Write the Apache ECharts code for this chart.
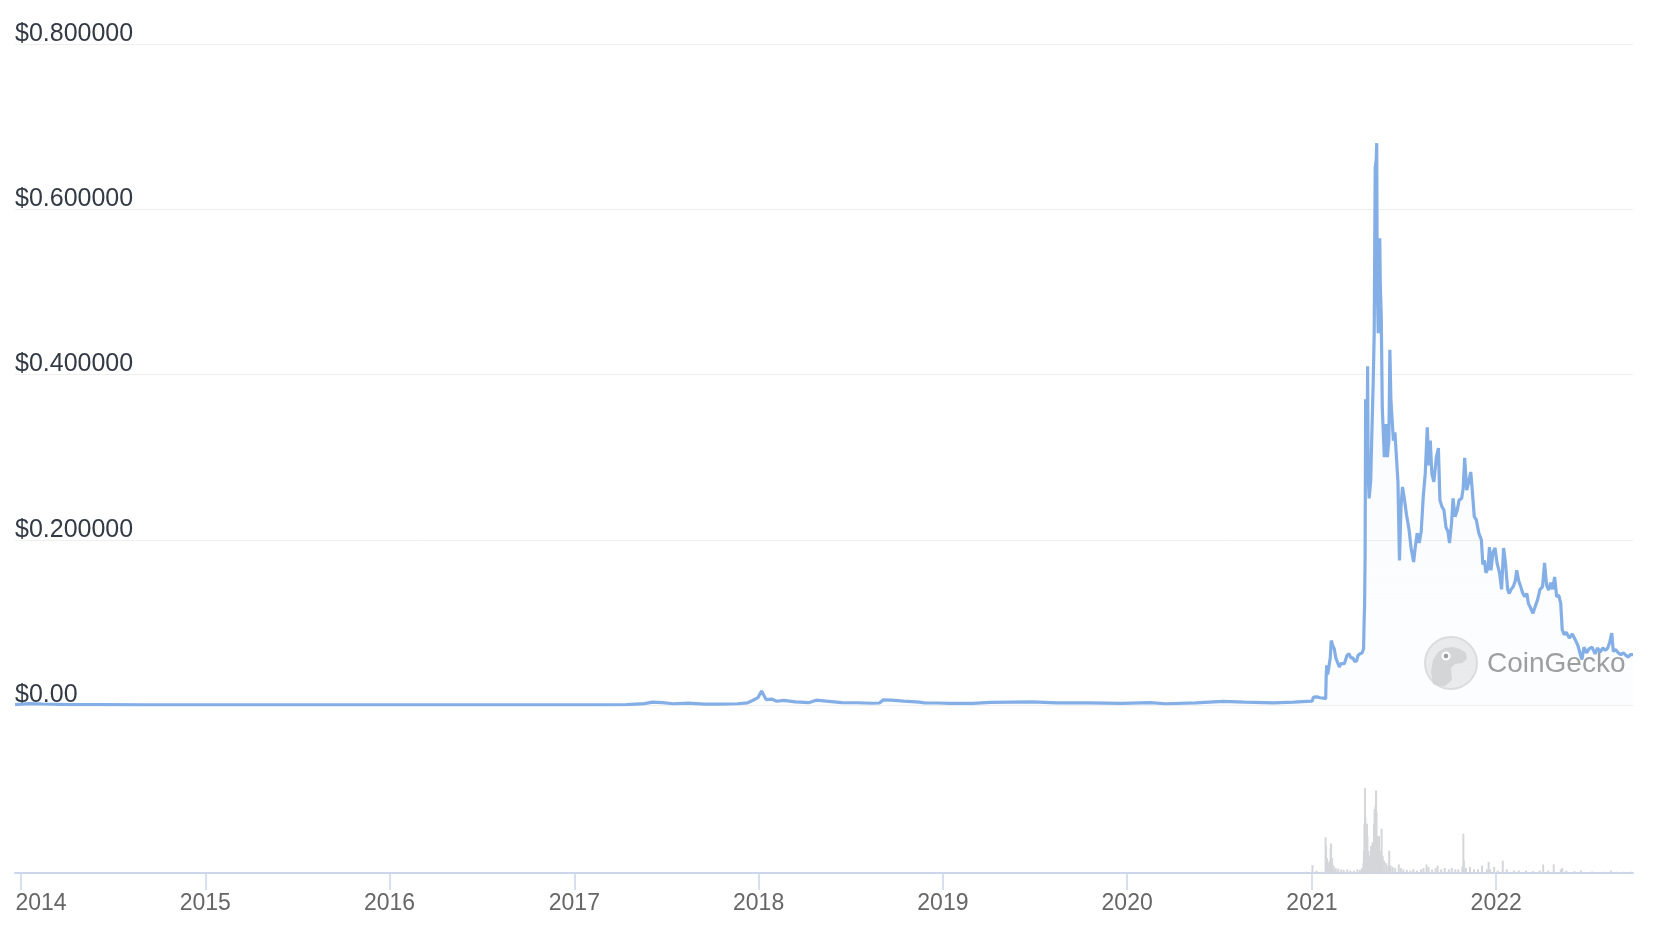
<!DOCTYPE html>
<html>
<head>
<meta charset="utf-8">
<script src="https://cdn.jsdelivr.net/npm/echarts@6/dist/echarts.min.js"></script>
<style>
html,body{margin:0;padding:0;background:#fff;}
#chart{width:1654px;height:938px;}
</style>
</head>
<body>
<div id="chart"></div>
<script>
// ---- Data ----
const priceDates = [
'2013-12-22','2014-01-20','2014-02-15','2014-04-10','2014-06-15','2014-09-01','2014-12-15',
'2015-03-15','2015-07-01','2015-10-15','2016-01-15','2016-05-01','2016-09-01','2016-12-31',
'2017-02-15','2017-04-15','2017-05-20','2017-06-05','2017-06-25','2017-07-16','2017-08-15',
'2017-09-15','2017-10-15','2017-11-20','2017-12-10','2017-12-20','2017-12-31','2018-01-07',
'2018-01-16','2018-01-28','2018-02-06','2018-02-20','2018-03-15','2018-04-10','2018-04-25',
'2018-05-15','2018-06-15','2018-07-15','2018-08-14','2018-08-28','2018-09-05','2018-09-20',
'2018-10-15','2018-11-15','2018-11-25','2018-12-20','2019-01-15','2019-03-01','2019-04-05',
'2019-06-25','2019-08-15','2019-10-15','2019-12-20','2020-02-15','2020-03-16','2020-05-15',
'2020-07-08','2020-08-20','2020-10-15','2020-11-25','2020-12-20','2020-12-31',
'2021-01-03','2021-01-10','2021-01-16','2021-01-23','2021-01-27','2021-01-28','2021-01-29',
'2021-01-31','2021-02-03','2021-02-05','2021-02-07','2021-02-08','2021-02-10','2021-02-13',
'2021-02-16','2021-02-19','2021-02-23','2021-02-26','2021-03-01','2021-03-05','2021-03-10',
'2021-03-14','2021-03-18','2021-03-22','2021-03-25','2021-03-29','2021-04-01','2021-04-05',
'2021-04-09','2021-04-12','2021-04-13','2021-04-14','2021-04-15','2021-04-16','2021-04-17',
'2021-04-18','2021-04-19','2021-04-20','2021-04-21','2021-04-23','2021-04-26','2021-04-28',
'2021-05-01','2021-05-03','2021-05-04','2021-05-05','2021-05-07','2021-05-08','2021-05-09',
'2021-05-10','2021-05-11','2021-05-13','2021-05-14','2021-05-15','2021-05-17','2021-05-19',
'2021-05-21','2021-05-23','2021-05-26','2021-05-29','2021-06-01','2021-06-03','2021-06-05',
'2021-06-07','2021-06-10','2021-06-13','2021-06-16','2021-06-19','2021-06-22','2021-06-25',
'2021-06-28','2021-07-02','2021-07-06','2021-07-11','2021-07-15','2021-07-20','2021-07-23',
'2021-07-27','2021-07-31','2021-08-04','2021-08-08','2021-08-12','2021-08-16','2021-08-19',
'2021-08-22','2021-08-25','2021-08-29','2021-09-03','2021-09-07','2021-09-10','2021-09-14',
'2021-09-18','2021-09-22','2021-09-26','2021-09-29','2021-10-03','2021-10-06','2021-10-10',
'2021-10-14','2021-10-18','2021-10-23','2021-10-26','2021-10-29','2021-11-02','2021-11-06',
'2021-11-10','2021-11-13','2021-11-17','2021-11-21','2021-11-26','2021-12-01','2021-12-04',
'2021-12-07','2021-12-10','2021-12-14','2021-12-17','2021-12-20','2021-12-24','2021-12-28',
'2022-01-01','2022-01-06','2022-01-10','2022-01-14','2022-01-18','2022-01-22','2022-01-25',
'2022-01-29','2022-02-02','2022-02-06','2022-02-09','2022-02-13','2022-02-17','2022-02-21',
'2022-02-25','2022-03-01','2022-03-04','2022-03-08','2022-03-13','2022-03-18','2022-03-22',
'2022-03-27','2022-04-01','2022-04-05','2022-04-09','2022-04-13','2022-04-17','2022-04-21',
'2022-04-25','2022-04-29','2022-05-03','2022-05-07','2022-05-10','2022-05-14','2022-05-18',
'2022-05-24','2022-05-30','2022-06-04','2022-06-10','2022-06-14','2022-06-18','2022-06-22',
'2022-06-27','2022-07-02','2022-07-08','2022-07-14','2022-07-19','2022-07-24','2022-07-29',
'2022-08-03','2022-08-08','2022-08-12','2022-08-16','2022-08-19','2022-08-24','2022-08-29',
'2022-09-03','2022-09-08','2022-09-13','2022-09-18','2022-09-22','2022-09-27'
];
const priceValues = [
0.0005,0.0016,0.0012,0.0005,0.0004,0.0002,0.0002,
0.0002,0.00015,0.00012,0.00025,0.00022,0.00023,0.00022,
0.00027,0.0004,0.0016,0.0035,0.0028,0.0015,0.0022,
0.0011,0.001,0.0015,0.0026,0.0055,0.009,0.017,
0.0065,0.007,0.0045,0.0055,0.0038,0.0028,0.0058,
0.0048,0.0028,0.0027,0.0021,0.0024,0.0062,0.0058,
0.0046,0.0035,0.0025,0.0024,0.002,0.0019,0.0031,
0.0038,0.0025,0.0026,0.002,0.0029,0.0015,0.0025,
0.0045,0.0034,0.0026,0.0035,0.0045,0.0047,
0.0095,0.0098,0.0088,0.0084,0.0074,0.034,0.048,
0.037,0.037,0.057,0.078,0.080,0.072,0.068,
0.057,0.057,0.046,0.050,0.052,0.050,0.060,
0.062,0.057,0.057,0.053,0.053,0.060,0.062,
0.063,0.068,0.10,0.12,0.18,0.37,0.34,
0.27,0.32,0.41,0.28,0.25,0.27,0.32,
0.39,0.45,0.55,0.65,0.66,0.68,0.51,
0.48,0.45,0.47,0.565,0.51,0.47,0.36,
0.36,0.30,0.34,0.30,0.32,0.43,0.37,
0.35,0.32,0.33,0.30,0.27,0.175,0.24,
0.264,0.248,0.23,0.212,0.19,0.173,0.19,
0.208,0.196,0.21,0.252,0.28,0.336,0.29,
0.32,0.28,0.27,0.30,0.311,0.248,0.24,
0.236,0.215,0.21,0.196,0.22,0.25,0.228,
0.235,0.248,0.25,0.262,0.299,0.26,0.27,
0.282,0.26,0.228,0.224,0.208,0.2,0.17,
0.175,0.16,0.165,0.191,0.163,0.185,0.19,
0.172,0.16,0.14,0.19,0.17,0.14,0.135,
0.14,0.143,0.15,0.163,0.15,0.143,0.135,
0.131,0.135,0.123,0.118,0.111,0.12,0.127,
0.14,0.143,0.172,0.145,0.139,0.148,0.14,
0.155,0.131,0.133,0.123,0.091,0.085,0.088,
0.081,0.086,0.08,0.072,0.063,0.055,0.07,
0.063,0.068,0.07,0.062,0.069,0.064,0.069,
0.066,0.069,0.076,0.087,0.065,0.067,0.063,
0.061,0.063,0.06,0.058,0.061,0.061
];
const volumeDates = [
'2018-01-07','2020-07-08','2020-12-20','2021-01-02','2021-01-10','2021-01-20','2021-01-28',
'2021-01-29','2021-01-31','2021-02-03','2021-02-05','2021-02-07','2021-02-08','2021-02-10',
'2021-02-13','2021-02-17','2021-02-22','2021-02-28','2021-03-05','2021-03-12','2021-03-18',
'2021-03-25','2021-04-01','2021-04-06','2021-04-10','2021-04-13','2021-04-14','2021-04-15',
'2021-04-16','2021-04-17','2021-04-18','2021-04-19','2021-04-20','2021-04-21','2021-04-23',
'2021-04-26','2021-04-28','2021-05-01','2021-05-04','2021-05-05','2021-05-06','2021-05-07',
'2021-05-08','2021-05-09','2021-05-10','2021-05-11','2021-05-13','2021-05-14','2021-05-16',
'2021-05-19','2021-05-21','2021-05-24','2021-05-28','2021-06-01','2021-06-03','2021-06-06',
'2021-06-10','2021-06-15','2021-06-22','2021-06-26','2021-07-01','2021-07-08','2021-07-15',
'2021-07-21','2021-07-28','2021-08-05','2021-08-10','2021-08-16','2021-08-20','2021-08-27',
'2021-09-03','2021-09-07','2021-09-14','2021-09-21','2021-09-29','2021-10-05','2021-10-12',
'2021-10-18','2021-10-26','2021-10-28','2021-10-29','2021-11-02','2021-11-10','2021-11-18',
'2021-11-26','2021-12-04','2021-12-14','2021-12-17','2021-12-20','2021-12-28','2022-01-04',
'2022-01-14','2022-01-22','2022-02-05','2022-02-15','2022-03-01','2022-03-15','2022-03-28',
'2022-04-04','2022-04-14','2022-04-25','2022-05-09','2022-05-12','2022-05-20','2022-06-05',
'2022-06-18','2022-07-10','2022-08-01','2022-08-16','2022-08-28','2022-09-10','2022-09-25'
];
const volumeValues = [
0.6,0.8,1.0,6.5,2,1,29,
22,12,8,10,20,24,12,
6,4,3.5,3,2.5,3,2,
2,3,2.5,4,8,18,40,
69,45,35,28,40,30,18,
14,22,25,40,52,45,55,
67,50,30,28,20,30,18,
36,14,10,8,6,18,6,
5,4,7,4,3,2.5,2,
3,2,3,4,7,5,3,
4,6,3,4,3,4,3,
3,5,32,10,4,5,3,
3,6,3,9,3,5,2,
10,3,2,2,2,1.5,2,
7,2,7,3,4,2,1.5,
2,1.2,1,2,1,1,1
];

const priceData = priceDates.map((d, i) => [d, priceValues[i]]);
const volumeData = volumeDates.map((d, i) => [d, volumeValues[i]]);

const FONT = '"Liberation Sans", Arial, Helvetica, sans-serif';
const xMin = '2013-12-22';
const xMax = '2022-09-27';
const YEAR = 365 * 24 * 3600 * 1000;

const chart = echarts.init(document.getElementById('chart'), null, {renderer: 'canvas'});
chart.setOption({
  animation: false,
  backgroundColor: '#ffffff',
  textStyle: {fontFamily: FONT},
  grid: [
    {left: 15, right: 21, top: 44, bottom: 233},
    {left: 15, right: 21, top: 713, bottom: 65}
  ],
  xAxis: [
    {type: 'time', gridIndex: 0, min: xMin, max: xMax, show: false},
    {
      type: 'time', gridIndex: 1, min: xMin, max: xMax,
      minInterval: YEAR, splitNumber: 9,
      axisLine: {show: true, lineStyle: {color: '#ccd6eb', width: 2}},
      axisTick: {show: true, length: 17, lineStyle: {color: '#ccd6eb', width: 1.5}},
      splitLine: {show: false},
      axisLabel: {
        color: '#666666', fontSize: 23, fontFamily: FONT, margin: 19,
        formatter: v => {
          const y = new Date(v).getFullYear();
          return y === 2014 ? '{first|' + y + '}' : String(y);
        },
        rich: {
          first: {color: '#666666', fontSize: 23, fontFamily: FONT, padding: [0, 0, 0, 40]}
        }
      }
    }
  ],
  yAxis: [
    {
      type: 'value', gridIndex: 0, min: 0, max: 0.8, interval: 0.2,
      axisLine: {show: false}, axisTick: {show: false},
      splitLine: {show: true, lineStyle: {color: '#efefef', width: 1}},
      axisLabel: {
        inside: true, margin: 0, align: 'left', verticalAlign: 'bottom',
        lineHeight: 20,
        color: '#333a45', fontSize: 25, fontFamily: FONT,
        formatter: v => v === 0 ? '$0.00' : '$' + v.toFixed(6)
      }
    },
    {type: 'value', gridIndex: 1, min: 0, max: 130, show: false}
  ],
  graphic: [
    {type: 'circle', z: -10, shape: {cx: 1451, cy: 663, r: 26},
     style: {fill: '#ececec', stroke: '#dddddd', lineWidth: 2}},
    {type: 'polygon', z: -9,
     shape: {points: [[1433,684],[1431,672],[1433,660],[1438,652],[1445,648],[1453,647],[1460,649],[1466,653],[1467,659],[1462,663],[1455,664],[1451,668],[1452,680],[1445,686],[1438,686]]},
     style: {fill: '#d6d6d6'}},
    {type: 'circle', z: -8, shape: {cx: 1446, cy: 656, r: 4.5}, style: {fill: '#ffffff'}},
    {type: 'circle', z: -7, shape: {cx: 1446, cy: 656, r: 2.3}, style: {fill: '#9a9a9a'}},
    {type: 'text', z: -10, left: 1487, top: 650,
     style: {text: 'CoinGecko', fill: '#9e9e9e', font: '28px ' + FONT}}
  ],
  series: [
    {
      name: 'Price', type: 'line', xAxisIndex: 0, yAxisIndex: 0,
      data: priceData, showSymbol: false, symbol: 'none', z: 5,
      lineStyle: {color: '#84aee6', width: 3.2},
      areaStyle: {
        color: {
          type: 'linear', x: 0, y: 0, x2: 0, y2: 1,
          colorStops: [
            {offset: 0, color: 'rgba(132,174,230,0.10)'},
            {offset: 1, color: 'rgba(132,174,230,0.03)'}
          ]
        }
      }
    },
    {
      name: 'Volume', type: 'bar', xAxisIndex: 1, yAxisIndex: 1,
      data: volumeData, barWidth: 2, z: 3,
      itemStyle: {color: '#d4d6da'}
    }
  ]
});
</script>
</body>
</html>
